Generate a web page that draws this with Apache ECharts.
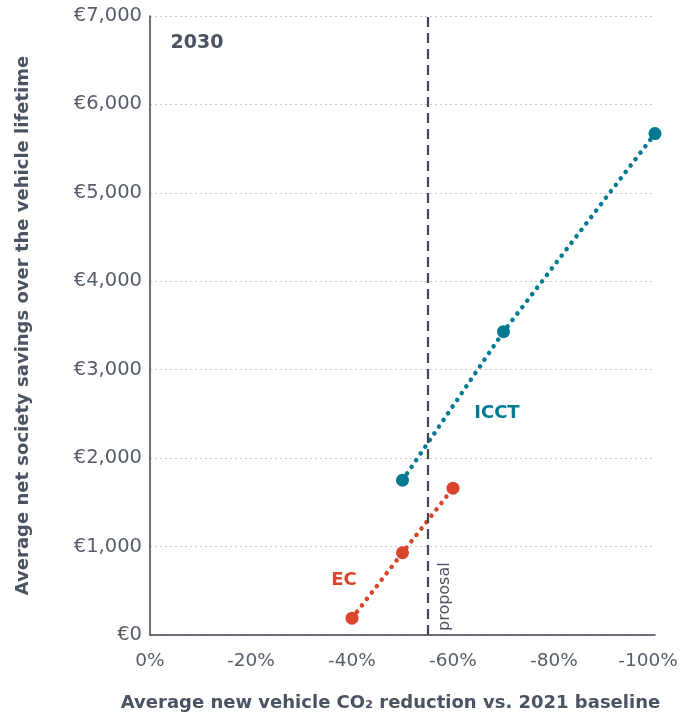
<!DOCTYPE html>
<html><head><meta charset="utf-8">
<script src="https://cdn.jsdelivr.net/npm/echarts@6/dist/echarts.min.js"></script>
<style>html,body{margin:0;padding:0;background:#fff}#c{width:681px;height:718px}</style>
</head><body><div id="c"></div>
<script>
var xTicks = [0, -20, -40, -60, -80, -100];
var yTicks = [0, 1000, 2000, 3000, 4000, 5000, 6000, 7000];
var icctX = [-50, -70, -100];
var icctY = [1750, 3430, 5670];
var ecX = [-40, -50, -60];
var ecY = [190, 930, 1660];
var proposalX = -55;
var yearLabel = '2030';

var TEAL = '#007a90', ORANGE = '#d9452a', TEXT = '#4a5361', AX = '#3d4650', TICK = '#555e6b';
var FONT = 'DejaVu Sans';
function pairs(xs, ys){ return xs.map(function(x,i){ return [x, ys[i]]; }); }
function fmtEuro(v){ return '€' + v.toLocaleString('en-US'); }
var xMin = xTicks[xTicks.length - 1];

var chart = echarts.init(document.getElementById('c'));
chart.setOption({
  animation: false,
  textStyle: { fontFamily: FONT },
  grid: { left: 150, right: 26, top: 16, bottom: 83, containLabel: false, outerBoundsMode: 'none' },
  xAxis: {
    type: 'value', min: xMin, max: 0, interval: 20, inverse: true,
    name: 'Average new vehicle CO₂ reduction vs. 2021 baseline',
    nameLocation: 'middle', nameGap: 59,
    nameTextStyle: { color: TEXT, fontSize: 18, fontWeight: 'bold', fontFamily: FONT, padding: [0, 24, 0, 0] },
    axisLine: { show: true, lineStyle: { color: AX, width: 1.5 } },
    axisTick: { show: false },
    splitLine: { show: false },
    axisLabel: {
      color: TICK, fontSize: 18.5, margin: 17,
      formatter: function(v){ return v === xMin ? '{m|' + v + '%}' : v + '%'; },
      rich: { m: { color: TICK, fontSize: 18.5, fontFamily: FONT, padding: [0, 14, 0, 0] } }
    }
  },
  yAxis: {
    type: 'value', min: 0, max: 7000, interval: 1000,
    name: 'Average net society savings over the vehicle lifetime',
    nameLocation: 'middle', nameGap: 118,
    nameTextStyle: { color: TEXT, fontSize: 18, fontWeight: 'bold', fontFamily: FONT },
    axisLine: { show: true, lineStyle: { color: AX, width: 1.5 } },
    axisTick: { show: false },
    splitLine: { show: true, lineStyle: { color: '#c8c8c8', type: [2, 3], width: 1.2 } },
    axisLabel: { color: TICK, fontSize: 19.5, margin: 8, formatter: fmtEuro }
  },
  series: [
    {
      name: 'ICCT', type: 'line', data: pairs(icctX, icctY),
      symbol: 'circle', symbolSize: 13,
      itemStyle: { color: TEAL },
      lineStyle: { color: TEAL, width: 4.5, type: [0.1, 8], cap: 'round' },
      markPoint: {
        symbol: 'circle', symbolSize: 0,
        label: { show: true, position: 'inside', color: TEAL, fontSize: 18, fontWeight: 'bold', fontFamily: FONT, formatter: 'ICCT' },
        data: [{ coord: [-68.7, 2510] }]
      },
      markLine: {
        silent: true, symbol: 'none',
        lineStyle: { color: AX, type: [10, 6], width: 2.2 },
        label: { show: true, position: 'insideStartBottom', formatter: 'proposal', color: TEXT, fontSize: 16, fontFamily: FONT, distance: [4, 9] },
        data: [{ xAxis: proposalX }]
      }
    },
    {
      name: 'EC', type: 'line', data: pairs(ecX, ecY),
      symbol: 'circle', symbolSize: 13,
      itemStyle: { color: ORANGE },
      lineStyle: { color: ORANGE, width: 4.5, type: [0.1, 8], cap: 'round' },
      markPoint: {
        symbol: 'circle', symbolSize: 0,
        label: { show: true, position: 'inside', color: ORANGE, fontSize: 18, fontWeight: 'bold', fontFamily: FONT, formatter: 'EC' },
        data: [{ coord: [-38.4, 620] }]
      }
    },
    {
      name: 'year', type: 'scatter', data: [],
      markPoint: {
        symbol: 'circle', symbolSize: 0,
        label: { show: true, position: 'inside', color: TEXT, fontSize: 19, fontWeight: 'bold', fontFamily: FONT, formatter: yearLabel },
        data: [{ coord: [-9.3, 6690] }]
      }
    }
  ]
});
</script>
</body></html>
